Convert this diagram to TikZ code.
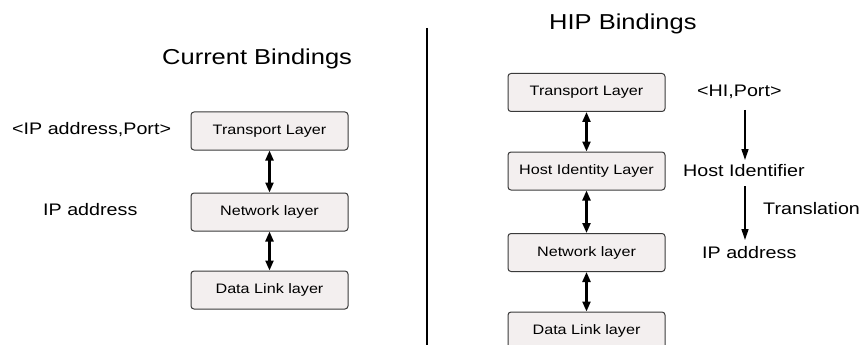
\documentclass[tikz,border=0pt]{standalone}
\usepackage{fontspec}
\setmainfont[FakeStretch=1.18]{Liberation Sans}
\usetikzlibrary{arrows.meta}
\definecolor{boxfill}{HTML}{F3EFEF}
\definecolor{boxdraw}{HTML}{3A3A3A}
\tikzset{
  layer/.style={draw=boxdraw, fill=boxfill, rounded corners=3pt, line width=1pt,
    minimum width=157pt, minimum height=38pt, inner sep=0pt, font=\fontsize{13.7}{15}\selectfont},
  lbl/.style={inner sep=0pt, font=\fontsize{16.7}{19}\selectfont},
  ttl/.style={inner sep=0pt, font=\fontsize{21.6}{24}\selectfont},
  biarrow/.style={{Triangle[length=10pt,width=8pt]}-{Triangle[length=10pt,width=8pt]}, line width=2.2pt},
  downarrow/.style={-{Triangle[length=11pt,width=7pt]}, line width=1.4pt}
}
\begin{document}
\begin{tikzpicture}[x=1pt,y=-1pt]
\useasboundingbox (0,0) rectangle (863,345);
% divider
\coordinate (dtop) at (427,28);
\coordinate (dbot) at (427,345);
\draw[line width=1.3pt] (dtop) -- (dbot);
% titles
\node[ttl, anchor=west] (t1) at (162,59) {Current Bindings};
\node[ttl, anchor=west] (t2) at (549,24) {HIP Bindings};
% left stack
\node[layer] (lt) at (269.5,131) {Transport Layer};
\node[layer] (ln) at (269.5,212) {Network layer};
\node[layer] (ld) at (269.5,290) {Data Link layer};
\draw[biarrow] (lt) -- (ln);
\draw[biarrow] (ln) -- (ld);
\node[lbl, anchor=west] (l1) at (12,130) {<IP address,Port>};
\node[lbl, anchor=west] (l2) at (43,210) {IP address};
% right stack
\node[layer] (rt) at (586.5,92.5) {Transport Layer};
\node[layer] (rh) at (586.5,171) {Host Identity Layer};
\node[layer] (rn) at (586.5,252.5) {Network layer};
\node[layer] (rd) at (586.5,331) {Data Link layer};
\draw[biarrow] (rt) -- (rh);
\draw[biarrow] (rh) -- (rn);
\draw[biarrow] (rn) -- (rd);
% right labels
\node[lbl, anchor=west] (r1) at (697,92) {<HI,Port>};
\node[lbl, anchor=west] (r2) at (683,171) {Host Identifier};
\node[lbl, anchor=west] (r3) at (702,253) {IP address};
\node[lbl, anchor=west] (r4) at (763,209) {Translation};
\coordinate (a1s) at (745,110);
\coordinate (a1e) at (745,160);
\coordinate (a2s) at (745,186);
\coordinate (a2e) at (745,240);
\draw[downarrow] (a1s) -- (a1e);
\draw[downarrow] (a2s) -- (a2e);
\end{tikzpicture}
\end{document}
